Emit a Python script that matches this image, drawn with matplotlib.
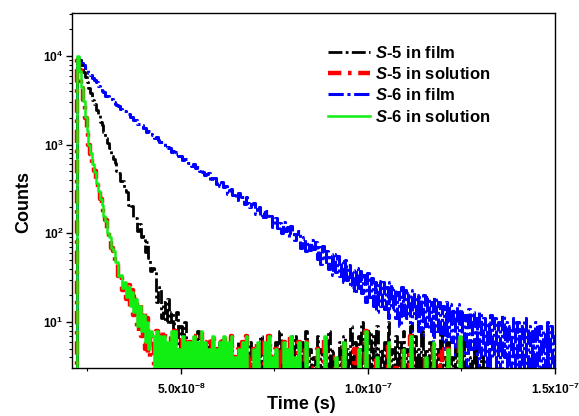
import matplotlib
matplotlib.use('Agg')
import matplotlib.pyplot as plt
import numpy as np
from matplotlib.ticker import LogLocator, NullFormatter

plt.rcParams['font.family'] = 'Liberation Sans'
plt.rcParams['font.weight'] = 'bold'
plt.rcParams['axes.labelweight'] = 'bold'
plt.rcParams['mathtext.fontset'] = 'custom'
plt.rcParams['mathtext.it'] = 'Liberation Sans:italic:bold'
plt.rcParams['mathtext.rm'] = 'Liberation Sans:bold'
plt.rcParams['mathtext.default'] = 'regular'

# TCSPC channels: first channel at 21 ns, 0.5 ns per channel
t_start = 21.0
t_step = 0.5

# S-5 in film
s5_film = [1, 1, 1, 9400,
           8980, 7850, 6590, 5860, 5120, 4300, 3820, 3180, 2880, 2430,
           2160, 1790, 1650, 1380, 1180, 1050, 926, 744, 695, 622,
           505, 474, 393, 389, 310, 289, 210, 214, 204, 149,
           149, 106, 126, 91, 93, 62, 79, 53, 38, 41,
           40, 17, 23, 25, 11, 17, 10, 18, 10, 13,
           6, 10, 13, 5, 9, 3, 10,
           5, 2, 6, 2, 5, 2, 8, 2, 4, 2, 5, 2, 6, 2, 3, 2, 5, 2, 6, 2,
           5, 2, 4, 2, 7, 2, 4, 2, 6, 2, 5, 2, 4, 2, 6, 2, 5, 2, 6, 2, 7, 2,
           6, 2, 5, 2, 4, 2, 6, 2, 8, 2, 4, 2, 5, 2, 7, 2, 7, 2, 5, 2,
           6, 2, 8, 2, 5, 2, 4, 2, 7, 2, 5, 2, 6, 2, 8, 2, 5, 2, 4, 2,
           6, 2, 7, 2, 5, 2,
           9, 2, 6, 2, 7, 2, 10, 2, 4, 2, 8, 2, 7, 2, 9, 2, 5, 2, 6, 2,
           10, 2, 5, 2, 7, 2, 6, 2, 8, 2, 5, 2, 9, 2, 7, 2, 5, 2, 8, 2,
           5, 2, 6, 2, 4, 2, 5, 2, 7, 2, 4, 2, 6, 2, 4, 2, 5, 2, 3, 2,
           6, 2, 3, 2, 4, 2, 5, 2, 3, 2, 4, 2, 3, 2]

# S-5 in solution
s5_sol = [1, 1, 1,
          9600, 6900, 4400, 3150, 2000, 1450, 980, 790, 600, 500,
          365, 305, 245, 215, 158, 140, 102, 90, 68, 64,
          47, 48, 33, 35, 23, 29, 18, 26, 14, 23,
          12, 19, 8, 16, 7, 13, 5, 11, 4, 8,
          7, 1, 8, 1, 7, 1, 8, 1, 6, 1, 8, 1, 8, 1, 5, 1, 7, 1, 6, 1,
          6, 1, 7, 1, 6, 1, 8, 1, 6, 1, 6, 1, 7, 1, 5, 1, 6, 1, 7, 1,
          6, 1, 7, 1,
          4, 1, 5, 1, 6, 1, 7, 1, 4, 1, 5, 1, 6, 1, 2, 1, 6, 1, 7, 1,
          4, 1, 5, 1, 5, 1, 6, 1, 5, 1, 7, 1, 4, 1, 6, 1,
          2, 1, 6, 1, 2, 1, 3, 1, 5, 1, 2, 1, 7, 1, 2, 1, 2, 1, 4, 1,
          2, 1, 6, 1, 2, 1, 2, 1, 5, 1, 5, 1, 2, 1, 8, 1, 2, 1, 2, 1,
          4, 1, 2, 1, 2, 1, 6, 1, 2, 1, 3, 1, 2, 1, 5, 1, 2, 1, 7, 1,
          2, 1, 2, 1, 2, 1, 4, 1, 2, 1, 6, 1, 2, 1, 5, 1, 2, 1, 5, 1,
          2, 1, 2, 1, 7, 1, 2, 1, 2, 1]

# S-6 in film
s6_film = [1, 1, 1, 9300,
           9090, 8330, 7920, 7340, 7030, 6460, 6120, 5590, 5330, 5060,
           4620, 4400, 4010, 3910, 3580, 3490, 3250, 3260, 3040, 2880,
           2830, 2750, 2510, 2490, 2420, 2230, 2200, 2070, 2070, 1920,
           1880, 1720, 1710, 1680, 1540, 1530, 1400, 1430, 1320, 1300,
           1190, 1220, 1130, 1060, 1060, 1030, 915, 930, 920, 830,
           844, 790, 817, 750, 747, 668, 686, 687, 619, 628,
           568, 604, 549, 556, 499, 536, 486, 451, 472, 477,
           389, 419, 425, 356, 382, 345, 383, 333, 342, 281,
           307, 320, 267, 286, 240, 284, 241, 257, 213, 255,
           217, 197, 215, 222, 166, 189, 196, 153, 172, 151,
           179, 148, 156, 119, 139, 148, 115, 130, 102, 133,
           106, 118, 91, 121, 97, 85, 99, 105, 69, 86,
           91, 63, 79, 65, 85, 66, 79, 52, 71, 45,
           72, 47, 64, 40, 58, 34, 59, 37, 55, 33,
           49, 28, 50, 30, 44, 25, 39, 21, 41, 23,
           38, 21, 34, 17, 36, 19, 31, 15, 28, 13,
           29, 15, 28, 14, 25, 11, 28, 14, 24, 11,
           22, 9, 25, 12, 23, 11, 21, 8, 23, 11,
           20, 8, 19, 7, 20, 9, 19, 8, 17, 6,
           19, 8, 17, 6, 15, 5, 17, 7, 16, 6,
           14, 4, 16, 6, 14, 4, 12, 3, 14, 5,
           13, 4, 11, 3, 13, 4, 11, 3, 10, 2,
           12, 4, 11, 3, 10, 2, 12, 4, 10, 2,
           9, 2, 11, 3, 10, 3, 9, 2, 11, 3,
           9, 2, 8, 2, 10, 3, 9, 2, 8, 2,
           10, 3, 9, 2, 7]

# S-6 in solution
s6_sol = [1, 1, 1,
          10000, 6800, 4500, 3100, 2050, 1420, 1000, 800, 610, 490,
          370, 300, 245, 210, 158, 138, 102, 90, 68, 63,
          47, 47, 33, 34, 24, 28, 19, 25, 15, 22,
          13, 18, 9, 15, 8, 12, 6, 10, 5, 8,
          7, 1, 8, 1, 7, 1, 7, 1, 6, 1, 8, 1, 8, 1, 5, 1, 7, 1, 6, 1,
          6, 1, 7, 1, 6, 1, 8, 1, 6, 1, 5, 1, 7, 1, 5, 1, 6, 1, 7, 1,
          6, 1, 7, 1,
          4, 1, 5, 1, 6, 1, 7, 1, 2, 1, 5, 1, 6, 1, 2, 1, 6, 1, 7, 1,
          4, 1, 5, 1, 2, 1, 6, 1, 5, 1, 7, 1, 4, 1, 6, 1,
          2, 1, 6, 1, 2, 1, 2, 1, 5, 1, 2, 1, 7, 1, 2, 1, 2, 1, 4, 1,
          2, 1, 6, 1, 2, 1, 2, 1, 2, 1, 5, 1, 2, 1, 8, 1, 2, 1, 2, 1,
          4, 1, 2, 1, 2, 1, 6, 1, 2, 1, 2, 1, 2, 1, 5, 1, 2, 1, 7, 1,
          2, 1, 2, 1, 2, 1, 4, 1, 2, 1, 6, 1, 2, 1, 2, 1, 2, 1, 5, 1,
          2, 1, 2, 1, 7, 1, 2, 1, 2, 1]

labels = ['$\\mathit{S}$-5 in film', '$\\mathit{S}$-5 in solution',
          '$\\mathit{S}$-6 in film', '$\\mathit{S}$-6 in solution']

xticks = [5e-8, 1e-7, 1.5e-7]
xticklabels = ['5.0x10$^{-8}$', '1.0x10$^{-7}$', '1.5x10$^{-7}$']
yticks = [10, 100, 1000, 10000]
yticklabels = ['10$^{1}$', '10$^{2}$', '10$^{3}$', '10$^{4}$']


def channel_times(counts):
    return (t_start + t_step * np.arange(len(counts))) * 1e-9


fig = plt.figure(figsize=(5.79, 4.16), dpi=100)
ax = fig.add_axes([0.12435, 0.11538, 0.8342, 0.85337])

dashdot = (0, (5, 1.2, 1, 1.2))
l_blue, = ax.plot(channel_times(s6_film), s6_film, color='#0000ff', lw=2.2, ls=dashdot,
                  drawstyle='steps-mid', zorder=2)
l_black, = ax.plot(channel_times(s5_film), s5_film, color='black', lw=2.0, ls=dashdot,
                   drawstyle='steps-mid', zorder=3)
l_red, = ax.plot(channel_times(s5_sol), s5_sol, color='#ff0000', lw=3.2, ls=(0, (3, 1.5, 0.8, 1.5)),
                 drawstyle='steps-mid', zorder=4)
l_green, = ax.plot(channel_times(s6_sol), s6_sol, color='#11ee11', lw=1.8,
                   drawstyle='steps-mid', zorder=5)

ax.set_yscale('log')
ax.set_xlim(2.086e-8, 1.5e-7)
ax.set_ylim(3.03, 3.05e4)

ax.set_xticks(xticks, labels=xticklabels)
ax.set_xticks([2.5e-8, 7.5e-8, 1.25e-7], minor=True)
ax.set_yticks(yticks, labels=yticklabels)
ax.yaxis.set_minor_locator(LogLocator(base=10, subs=np.arange(2, 10), numticks=20))
ax.yaxis.set_minor_formatter(NullFormatter())

ax.tick_params(which='both', direction='out', top=False, right=False, color='black')
ax.tick_params(which='major', length=4, width=1, pad=2, labelsize=8.7)
ax.tick_params(which='minor', length=2.5, width=0.8)
ax.tick_params(axis='x', which='major', pad=6)
for sp in ax.spines.values():
    sp.set_linewidth(1.0)
    sp.set_color('black')

ax.set_xlabel('Time (s)', fontsize=13)
ax.xaxis.set_label_coords(0.474, -0.079)
ax.set_ylabel('Counts', fontsize=13)
ax.yaxis.set_label_coords(-0.083, 0.468)

ax.legend(handles=[l_black, l_red, l_blue, l_green], labels=labels,
          loc='upper left', bbox_to_anchor=(0.530, 0.911), frameon=False,
          fontsize=12, handlelength=2.5, handletextpad=0.3, labelspacing=0.32,
          borderpad=0, borderaxespad=0)

fig.savefig('out.png', dpi=100)
